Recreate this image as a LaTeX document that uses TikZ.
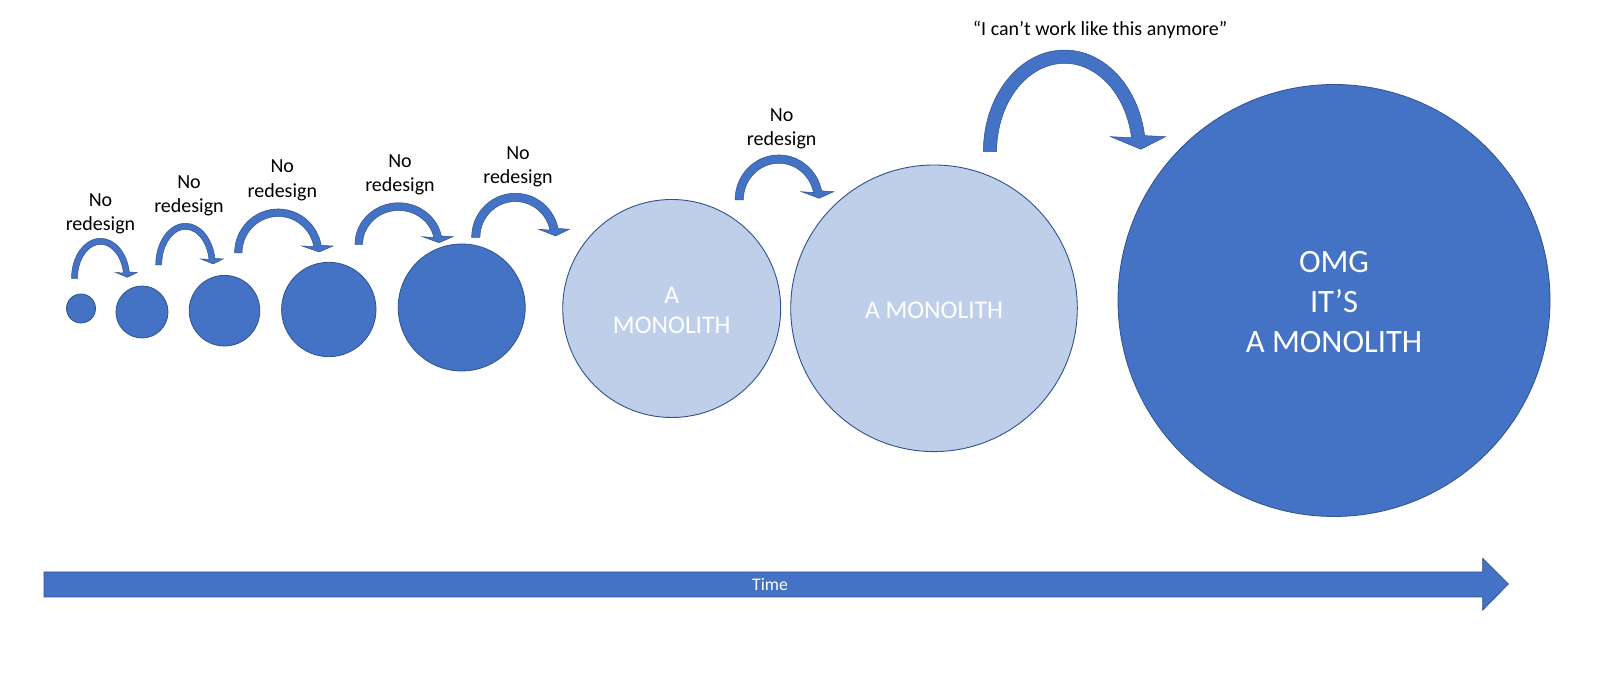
\documentclass[tikz,border=0pt]{standalone}
\usepackage{fontspec}
\setmainfont{Carlito}
\usetikzlibrary{calc}
\definecolor{accent}{HTML}{4472C4}
\definecolor{accentdk}{HTML}{2F528F}
\definecolor{accentlt}{HTML}{BFCFEA}
\tikzset{
  dkcirc/.style={circle, fill=accent, draw=accentdk, line width=0.8pt, inner sep=0pt, text=white},
  ltcirc/.style={circle, fill=accentlt, draw=accentdk, line width=0.9pt, inner sep=0pt, text=white, align=center},
  curvarrow/.style={fill=accent, draw=accentdk, line width=0.5pt, line join=miter},
  lbl/.style={inner sep=0pt, align=center, font=\fontsize{20}{24.4}\selectfont, anchor=south},
  timebar/.style={fill=accent, draw=accentdk, line width=0.8pt}
}
% name, cx, cy (tail bottom, y-down px), rx, ry, band width, end angle, head half width, head length
\newcommand\CurvArrow[9]{%
  \pgfmathsetmacro\caCy{684-#3}%
  \pgfmathsetmacro\caOx{#4+#6/2}%
  \pgfmathsetmacro\caOy{#5+#6/2}%
  \pgfmathsetmacro\caIx{#4-#6/2}%
  \pgfmathsetmacro\caIy{#5-#6/2}%
  \pgfmathsetmacro\caMx{#2+#4*cos(#7)}%
  \pgfmathsetmacro\caMy{\caCy+#5*sin(#7)}%
  \coordinate (#1-tail) at ({#2-#4},\caCy);
  \coordinate (#1-tip) at ({\caMx+0.1*#8},{\caMy-#9});
  \path[curvarrow] ({#2-\caOx},\caCy)
    arc[start angle=180,end angle=#7,x radius=\caOx,y radius=\caOy]
    -- ({\caMx+#8},\caMy) -- (#1-tip) -- ({\caMx-#8},\caMy)
    -- ({#2+\caIx*cos(#7)},{\caCy+\caIy*sin(#7)})
    arc[start angle=#7,end angle=180,x radius=\caIx,y radius=\caIy] -- cycle;
}
\begin{document}
\begin{tikzpicture}[x=1pt,y=1pt]
\fill[white] (0,0) rectangle (1600,684);
\useasboundingbox (0,0) rectangle (1600,684);

% circles
\node[dkcirc, minimum size=29] (c1) at (81,375.5) {};
\node[dkcirc, minimum size=52] (c2) at (142,372) {};
\node[dkcirc, minimum size=70.6] (c3) at (224.5,373.3) {};
\node[dkcirc, minimum size=94.4] (c4) at (328.8,374.5) {};
\node[dkcirc, minimum size=127] (c5) at (461.7,376.5) {};
\node[ltcirc, minimum size=218] (c6) at (671.7,375.5) {};
\node[ltcirc, minimum size=286.6] (c7) at (934,375.7) {};
\node[dkcirc, minimum size=432] (c8) at (1334,383.5) {};

\node[inner sep=0pt, text=white, align=center, font=\fontsize{25.5}{30}\selectfont] (t6) at (671.7,374) {A\\MONOLITH};
\node[inner sep=0pt, text=white, font=\fontsize{25.5}{30}\selectfont] (t7) at (934,374) {A MONOLITH};
\node[inner sep=0pt, text=white, align=center, font=\fontsize{32.6}{40}\selectfont] (t8) at (1334,382.3) {OMG\\IT’S\\A MONOLITH};

% curved arrows
\CurvArrow{a1}{100.6}{278.3}{26.1}{37}{6}{9}{10.7}{4.8}
\CurvArrow{a2}{185.5}{265}{26.8}{38.7}{6}{9}{11.2}{5}
\CurvArrow{a3}{278.2}{253}{39.9}{40.3}{7.5}{10}{15.5}{6}
\CurvArrow{a4}{398.6}{244.3}{39.8}{37.7}{7.7}{11.6}{15.3}{6}
\CurvArrow{a5}{515.3}{237.3}{39.5}{39.9}{8.3}{11.6}{15.3}{6.7}
\CurvArrow{a6}{778.8}{200}{39.6}{40.9}{8.3}{11.7}{16.1}{6.6}
\CurvArrow{a7}{1064.5}{151.7}{74.5}{95}{13.3}{9.1}{27.5}{12.6}

% labels
\node[lbl] (l1) at (100.5,449.8) {No\\redesign};
\node[lbl] (l2) at (189,467.5) {No\\redesign};
\node[lbl] (l3) at (282.3,483.1) {No\\redesign};
\node[lbl] (l4) at (400,488.8) {No\\redesign};
\node[lbl] (l5) at (518,496.5) {No\\redesign};
\node[lbl] (l6) at (781.7,534.8) {No\\redesign};
\node[inner sep=0pt, anchor=base, font=\fontsize{20}{24.4}\selectfont] (quote) at (1100,648) {“I can’t work like this anymore”};

% time arrow
\path[timebar] (44,87) -- (1482.7,87) -- (1482.7,74) -- (1508.3,100) -- (1482.7,125.7) -- (1482.7,112) -- (44,112) -- cycle;
\node[inner sep=0pt, text=white, font=\fontsize{17.7}{21}\selectfont] (time) at (770,99.5) {Time};
\end{tikzpicture}
\end{document}
